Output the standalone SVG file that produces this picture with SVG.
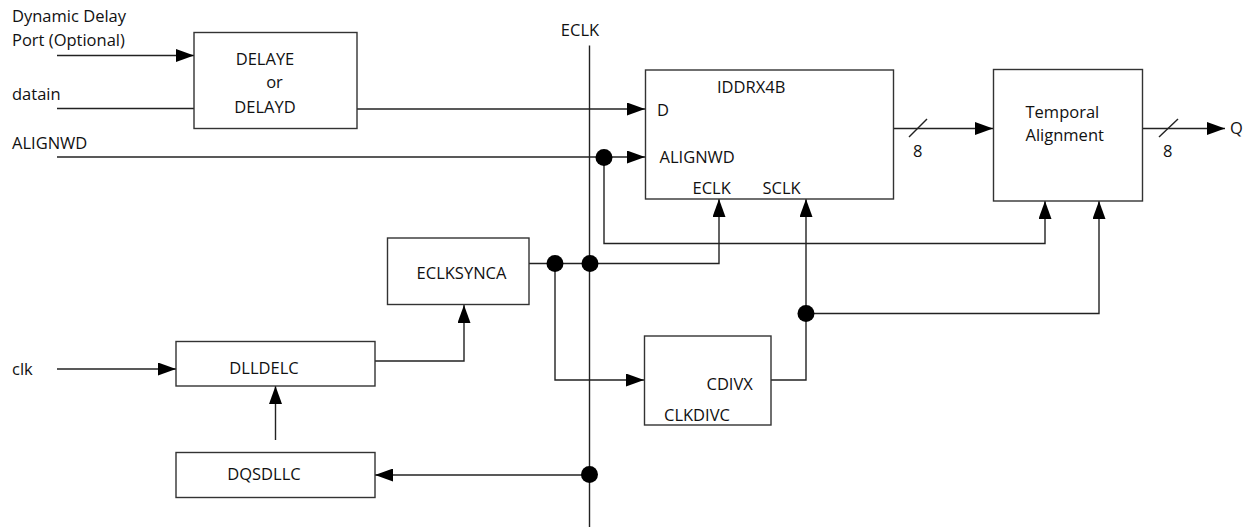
<svg xmlns="http://www.w3.org/2000/svg" width="1249" height="527" viewBox="0 0 1249 527">
<defs>
<marker id="arr" markerUnits="userSpaceOnUse" markerWidth="18" markerHeight="13" refX="18" refY="6.5" orient="auto">
<path d="M0,0 L18,6.5 L0,13 z" fill="#000"/>
</marker>
<style>
.box{fill:#fff;stroke:#333;stroke-width:1.4}
.ln{fill:none;stroke:#222;stroke-width:1.4}
.a{marker-end:url(#arr)}
.dot{fill:#000}
text{font-family:"Open Sans","Liberation Sans",sans-serif;font-size:16.5px;fill:#111}
</style>
</defs>
<rect width="1249" height="527" fill="#fff"/>
<g id="connectors">
<line class="ln a" x1="57" y1="55.5" x2="194" y2="55.5"/>
<line class="ln" x1="57" y1="108.5" x2="194" y2="108.5"/>
<line class="ln a" x1="357" y1="109" x2="645" y2="109"/>
<line class="ln a" x1="57" y1="157" x2="645" y2="157"/>
<line class="ln" x1="589.5" y1="45.5" x2="589.5" y2="527"/>
<polyline class="ln a" points="604,157 604,243.5 1045,243.5 1045,201"/>
<polyline class="ln a" points="529,263.5 719,263.5 719,199"/>
<polyline class="ln a" points="555,263.5 555,380 644,380"/>
<polyline class="ln a" points="771,380 806,380 806,199"/>
<polyline class="ln a" points="806,313.5 1099,313.5 1099,201"/>
<polyline class="ln a" points="375,361 464,361 464,305"/>
<line class="ln a" x1="57" y1="369" x2="176" y2="369"/>
<line class="ln a" x1="275.5" y1="440" x2="275.5" y2="386"/>
<line class="ln a" x1="589.5" y1="475" x2="375" y2="475"/>
<line class="ln a" x1="893" y1="128.5" x2="993" y2="128.5"/>
<line class="ln a" x1="1143" y1="128.5" x2="1225" y2="128.5"/>
<line class="ln" x1="909" y1="137" x2="927" y2="119"/>
<line class="ln" x1="1159" y1="137" x2="1178" y2="119"/>
<circle class="dot" cx="604" cy="157.5" r="8.5"/>
<circle class="dot" cx="555" cy="263.5" r="8.5"/>
<circle class="dot" cx="590" cy="263.5" r="8.5"/>
<circle class="dot" cx="806" cy="313.5" r="8.5"/>
<circle class="dot" cx="589.5" cy="474.5" r="8.5"/>
</g>
<g id="labels">
<text x="12" y="21.5">Dynamic Delay</text>
<text x="12" y="45.5">Port (Optional)</text>
<text x="12" y="100">datain</text>
<text x="12" y="149">ALIGNWD</text>
<text x="12" y="375">clk</text>
<text x="580" y="35.5" text-anchor="middle">ECLK</text>
<text x="913" y="157">8</text>
<text x="1163" y="157">8</text>
<text x="1230" y="134">Q</text>
</g>
<g id="delaye">
<rect class="box" x="194" y="32.5" width="163" height="96"/>
<text x="265" y="65" text-anchor="middle">DELAYE</text>
<text x="274.5" y="88" text-anchor="middle">or</text>
<text x="265" y="113" text-anchor="middle">DELAYD</text>
</g>
<g id="iddrx4b">
<rect class="box" x="645.5" y="70" width="248" height="129"/>
<text x="717" y="92.5">IDDRX4B</text>
<text x="657" y="115.5">D</text>
<text x="659.5" y="162.5">ALIGNWD</text>
<text x="692.5" y="194">ECLK</text>
<text x="762.5" y="194">SCLK</text>
</g>
<g id="temporal">
<rect class="box" x="993.5" y="69.5" width="149" height="131.5"/>
<text x="1025.5" y="118">Temporal</text>
<text x="1025.5" y="140.5">Alignment</text>
</g>
<g id="eclksynca">
<rect class="box" x="387.5" y="238" width="141.5" height="66.5"/>
<text x="461.5" y="278.5" text-anchor="middle">ECLKSYNCA</text>
</g>
<g id="clkdivc">
<rect class="box" x="644.5" y="336" width="126.5" height="89"/>
<text x="706.5" y="390">CDIVX</text>
<text x="664" y="420.5">CLKDIVC</text>
</g>
<g id="dlldelc">
<rect class="box" x="176" y="341.5" width="199" height="44.5"/>
<text x="264" y="374" text-anchor="middle">DLLDELC</text>
</g>
<g id="dqsdllc">
<rect class="box" x="176" y="452.5" width="199" height="45"/>
<text x="264" y="480" text-anchor="middle">DQSDLLC</text>
</g>
</svg>
